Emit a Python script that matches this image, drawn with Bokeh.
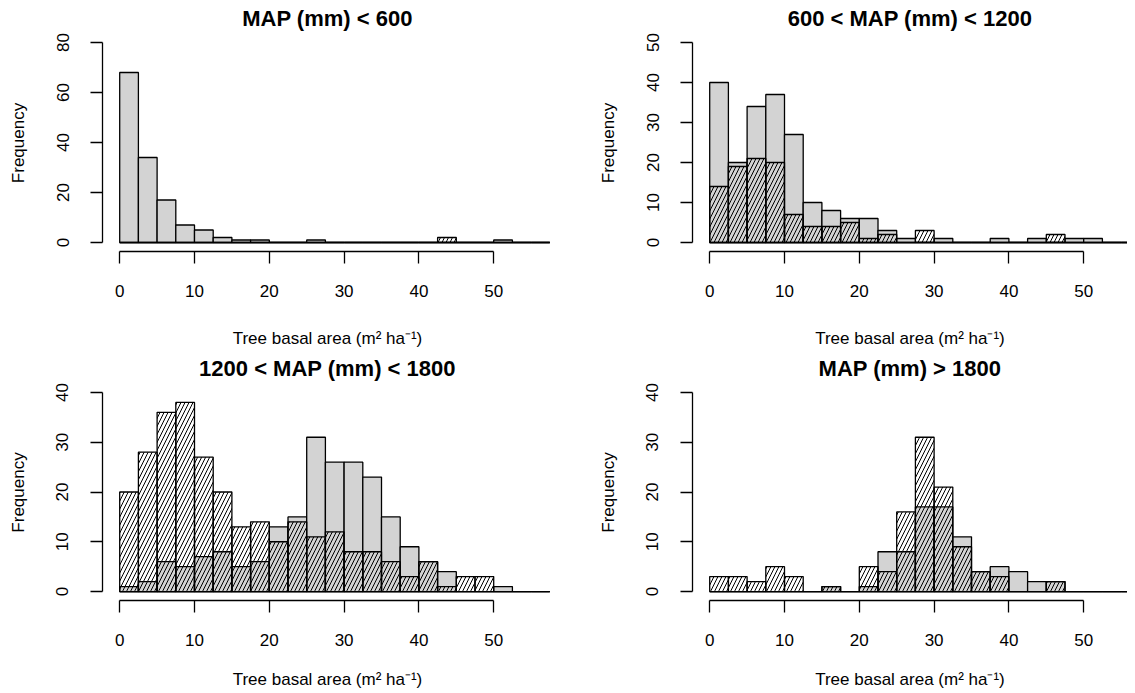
from bokeh.plotting import figure
from bokeh.layouts import gridplot
from bokeh.models import FixedTicker, Range1d, LinearAxis
from bokeh.embed import file_html
from bokeh.resources import INLINE

# ---------------- data ----------------
bin_left = [0, 2.5, 5, 7.5, 10, 12.5, 15, 17.5, 20, 22.5, 25, 27.5,
            30, 32.5, 35, 37.5, 40, 42.5, 45, 47.5, 50, 52.5, 55]
bin_right = [2.5, 5, 7.5, 10, 12.5, 15, 17.5, 20, 22.5, 25, 27.5, 30,
             32.5, 35, 37.5, 40, 42.5, 45, 47.5, 50, 52.5, 55, 57.5]

titles = ["MAP (mm) < 600", "600 < MAP (mm) < 1200",
          "1200 < MAP (mm) < 1800", "MAP (mm) > 1800"]

gray_p1 = [68, 34, 17, 7, 5, 2, 1, 1, 0, 0, 1, 0, 0, 0, 0, 0, 0, 0, 0, 0, 1, 0, 0]
hatch_p1 = [0, 0, 0, 0, 0, 0, 0, 0, 0, 0, 0, 0, 0, 0, 0, 0, 0, 2, 0, 0, 0, 0, 0]

gray_p2 = [40, 20, 34, 37, 27, 10, 8, 6, 6, 3, 1, 0, 1, 0, 0, 1, 0, 1, 0, 1, 1, 0, 0]
hatch_p2 = [14, 19, 21, 20, 7, 4, 4, 5, 1, 2, 0, 3, 0, 0, 0, 0, 0, 0, 2, 0, 0, 0, 0]

gray_p3 = [1, 2, 6, 5, 7, 8, 5, 6, 13, 15, 31, 26, 26, 23, 15, 9, 6, 4, 0, 0, 1, 0, 0]
hatch_p3 = [20, 28, 36, 38, 27, 20, 13, 14, 10, 14, 11, 12, 8, 8, 6, 3, 6, 1, 3, 3, 0, 0, 0]

gray_p4 = [0, 0, 0, 0, 0, 0, 1, 0, 1, 8, 8, 17, 17, 11, 4, 5, 4, 2, 2, 0, 0, 0, 0]
hatch_p4 = [3, 3, 2, 5, 3, 0, 1, 0, 5, 4, 16, 31, 21, 9, 4, 3, 0, 0, 2, 0, 0, 0, 0]

x_ticks = [0, 10, 20, 30, 40, 50]
y_ticks_p1 = [0, 20, 40, 60, 80]
y_ticks_p2 = [0, 10, 20, 30, 40, 50]
y_ticks_p3 = [0, 10, 20, 30, 40]
y_ticks_p4 = [0, 10, 20, 30, 40]

x_label = "Tree basal area (m\u00b2 ha\u207b\u00b9)"
y_label = "Frequency"

FONT = "Liberation Sans"
LW = 1.3
PX_X = 7.48          # pixels per x unit
X_START = -2.3


def make_panel(title, gray, hatch, yticks, fig_w, fig_h, left, right, top, bottom,
               xlab_standoff, title_x):
    frame_w = fig_w - left - right
    frame_h = fig_h - top - bottom
    ymax = yticks[-1]
    px_y = 200.0 / ymax
    y_start = -9.0 / px_y
    y_end = y_start + frame_h / px_y
    x_end = X_START + frame_w / PX_X

    p = figure(width=fig_w, height=fig_h,
               x_range=Range1d(X_START, x_end), y_range=Range1d(y_start, y_end),
               output_backend="svg", toolbar_location=None,
               min_border_left=left, min_border_right=right,
               min_border_top=top, min_border_bottom=bottom)
    p.outline_line_color = None
    p.xgrid.visible = False
    p.ygrid.visible = False
    p.background_fill_color = "white"

    # baseline (zero-height bins)
    p.line([bin_left[0], bin_right[-1]], [0, 0], line_color="black", line_width=LW)

    p.quad(left=bin_left, right=bin_right, bottom=0, top=gray,
           fill_color="#D3D3D3", line_color="black", line_width=LW)
    p.quad(left=bin_left, right=bin_right, bottom=0, top=hatch,
           fill_color=None, fill_alpha=0, hatch_pattern="/", hatch_color="black",
           hatch_scale=8, hatch_weight=1, hatch_alpha=1.0,
           line_color="black", line_width=LW)

    xax = p.below[0]
    yax = p.left[0]
    for ax, ticks, bounds in ((xax, x_ticks, (0, 50)), (yax, yticks, (0, ymax))):
        ax.ticker = FixedTicker(ticks=ticks)
        ax.bounds = bounds
        ax.axis_line_color = "black"
        ax.axis_line_width = LW
        ax.major_tick_line_color = "black"
        ax.major_tick_line_width = LW
        ax.major_tick_out = 12
        ax.major_tick_in = 0
        ax.minor_tick_line_color = None
        ax.major_label_text_font = FONT
        ax.major_label_text_font_size = "17px"
        ax.major_label_text_color = "black"
        ax.axis_label_text_font = FONT
        ax.axis_label_text_font_size = "17px"
        ax.axis_label_text_font_style = "normal"
        ax.axis_label_text_color = "black"

    xax.axis_label = x_label
    xax.major_label_standoff = 21
    xax.axis_label_standoff = xlab_standoff
    yax.axis_label = y_label
    yax.major_label_orientation = "vertical"
    yax.major_label_standoff = 22
    yax.axis_label_standoff = 26

    # panel title drawn as the label of a bare axis above the plot region
    tax = LinearAxis(ticker=FixedTicker(ticks=[]), bounds=(title_x - 1, title_x + 1),
                     axis_line_color=None, major_tick_out=0, major_tick_in=0,
                     minor_tick_line_color=None, major_tick_line_color=None,
                     major_label_text_font_size="0px",
                     axis_label=title, axis_label_standoff=4,
                     axis_label_text_font=FONT, axis_label_text_font_size="22px",
                     axis_label_text_font_style="bold", axis_label_text_color="black")
    p.add_layout(tax, "above")
    return p


p1 = make_panel(titles[0], gray_p1, hatch_p1, y_ticks_p1, 560, 350, 102, 8, 34, 99, 29, 27.5)
p2 = make_panel(titles[1], gray_p2, hatch_p2, y_ticks_p2, 567, 350, 132, 0, 34, 99, 29, 26.0)
p3 = make_panel(titles[2], gray_p3, hatch_p3, y_ticks_p3, 560, 341, 102, 8, 34, 90, 21, 27.5)
p4 = make_panel(titles[3], gray_p4, hatch_p4, y_ticks_p4, 567, 341, 132, 0, 34, 90, 21, 26.0)

grid = gridplot([[p1, p2], [p3, p4]], toolbar_location=None)

open("out.html", "w").write(file_html(grid, INLINE))
